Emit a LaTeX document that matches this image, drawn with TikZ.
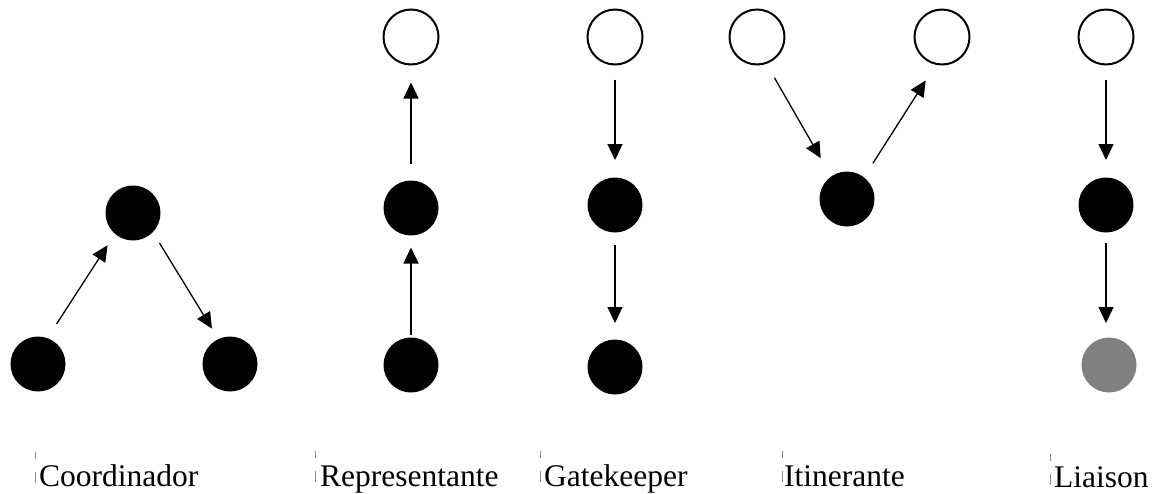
\documentclass[tikz,border=0pt]{standalone}
\usepackage{fontspec}
\setmainfont{Liberation Serif}
\usetikzlibrary{arrows.meta}
\tikzset{
  opennode/.style={circle,draw=black,line width=2pt,fill=white,minimum size=55pt,inner sep=0pt,outer sep=0pt},
  fullnode/.style={circle,fill=black,minimum size=55pt,inner sep=0pt,outer sep=0pt},
  graynode/.style={circle,fill=black!50,minimum size=55pt,inner sep=0pt,outer sep=0pt},
  arr/.style={line width=1.3pt,-{Triangle[length=16pt,width=15pt]}},
  lbl/.style={anchor=base west,inner sep=0pt,font=\fontsize{31.5}{36}\selectfont},
  tick/.style={draw=black!45,line width=0.8pt}
}
\begin{document}
\begin{tikzpicture}[x=1pt,y=-1pt]
\useasboundingbox (0,0) rectangle (1155,493);
% Coordinador
\node[fullnode] (c1) at (38,364) {};
\node[fullnode] (c2) at (133,213) {};
\node[fullnode] (c3) at (230,364) {};
\draw[arr,shorten <=17pt,shorten >=13.6pt] (c1.70) -- (c2.-131);
\draw[arr,shorten <=12.8pt,shorten >=12.3pt] (c2.-44) -- (c3.115);
% Representante
\node[opennode] (r1) at (411,37) {};
\node[fullnode] (r2) at (411,208) {};
\node[fullnode] (r3) at (411,365) {};
\draw[arr,shorten <=3pt,shorten >=12pt] (r3) -- (r2);
\draw[arr,shorten <=17pt,shorten >=18pt] (r2) -- (r1);
% Gatekeeper
\node[opennode] (g1) at (615,37) {};
\node[fullnode] (g2) at (615,205) {};
\node[fullnode] (g3) at (615,367) {};
\draw[arr,shorten <=15pt,shorten >=17.5pt] (g1) -- (g2);
\draw[arr,shorten <=12.5pt,shorten >=16.5pt] (g2) -- (g3);
% Itinerante
\node[opennode] (i1) at (757,37) {};
\node[fullnode] (i2) at (847,199) {};
\node[opennode] (i3) at (942,37) {};
\draw[arr,shorten <=17pt,shorten >=21pt] (i1.-71) -- (i2.125);
\draw[arr,shorten <=16.7pt,shorten >=19.6pt] (i2.52) -- (i3.-102);
% Liaison
\node[opennode] (l1) at (1106,37) {};
\node[fullnode] (l2) at (1106,205) {};
\node[graynode] (l3) at (1109,365) {};
\draw[arr,shorten <=15pt,shorten >=17.5pt] (l1) -- (l2.north);
\draw[arr,shorten <=10.5pt,shorten >=14.5pt] (l2.south) -- (l3.north -| l2.south);
% labels
\node[lbl] (t1) at (39,486) {Coordinador};
\node[lbl] (t2) at (320,486) {Representante};
\node[lbl] (t3) at (544,486) {Gatekeeper};
\node[lbl] (t4) at (784,486) {Itinerante};
\node[lbl] (t5) at (1054,487) {Liaison};
% text-frame ticks
\foreach \x/\d in {35.7/0,315.7/-1,540/-1,782/-1,1050/2}{
  \draw[tick] (\x,452+\d) -- (\x,459+\d);
  \draw[tick] (\x,472+\d) -- (\x,483+\d);
}
\end{tikzpicture}
\end{document}
